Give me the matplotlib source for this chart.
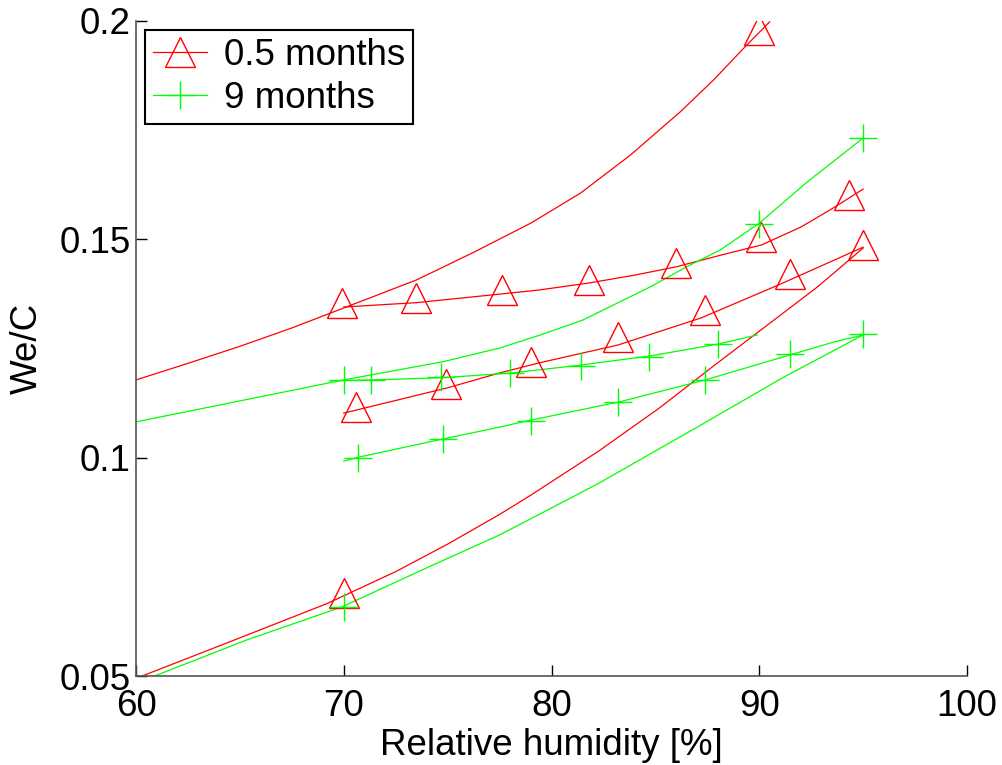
import numpy as np
import matplotlib.pyplot as plt

plt.rcParams['font.family'] = ['Liberation Sans', 'DejaVu Sans']

# Fitted curves, 0.5 months (red)
red_a_x = [60, 62.5, 65, 67.5, 69.9, 73.5, 76.2, 79.0, 81.4, 83.8, 86.2, 87.8, 89.4, 90.5]
red_a_y = [0.1178, 0.1216, 0.1255, 0.1297, 0.1341, 0.1407, 0.1469, 0.1537, 0.1606, 0.1693,
           0.1792, 0.1865, 0.1945, 0.1998]
red_b_x = [70, 73.5, 77.6, 79.4, 81.8, 84, 86, 88, 90.1, 92, 93.5, 95]
red_b_y = [0.1345, 0.1355, 0.1375, 0.1384, 0.1400, 0.1418, 0.1437, 0.1462, 0.1487, 0.1528,
           0.1570, 0.1615]
red_c_x = [60, 60.4, 64.5, 69.2, 72.5, 75, 77.5, 79, 82.3, 85.2, 87.8, 90.4, 92.8, 95]
red_c_y = [0.0494, 0.0502, 0.0578, 0.0666, 0.0739, 0.0802, 0.0870, 0.0914, 0.1016, 0.1114,
           0.1210, 0.1304, 0.1391, 0.1480]
red_d_x = [70, 75, 77.5, 79.4, 83.2, 87.2, 90.9, 93.4, 95]
red_d_y = [0.1102, 0.1160, 0.1194, 0.1217, 0.1258, 0.1320, 0.1395, 0.1448, 0.1482]

# Measured points, 0.5 months
red_pts_x = [69.9, 73.5, 77.6, 81.8, 86.0, 90.1, 94.3,
             90.0, 70.0,
             70.6, 74.9, 79.0, 83.2, 87.4, 91.5, 95.0]
red_pts_y = [0.1354, 0.1366, 0.1384, 0.1407, 0.1446, 0.1505, 0.1601,
             0.1979, 0.0690,
             0.1116, 0.1169, 0.1219, 0.1276, 0.1338, 0.1420, 0.1487]

# Fitted curves, 9 months (green)
green_e_x = [60, 65, 70, 74.8, 77.5, 79.4, 81.5, 84.75, 86.5, 88.1, 90, 92.3, 95]
green_e_y = [0.1082, 0.1130, 0.1178, 0.1220, 0.1251, 0.1280, 0.1315, 0.1391, 0.1437, 0.1475,
             0.1537, 0.1631, 0.1732]
green_f_x = [69.3, 71.3, 74.7, 78.1, 81.4, 84.75, 88, 89.9]
green_f_y = [0.1176, 0.1178, 0.1183, 0.1194, 0.1212, 0.1233, 0.1260, 0.1281]
green_g_x = [70, 70.7, 74.8, 77.5, 79, 83.2, 87.4, 91.6, 93.6, 95]
green_g_y = [0.0992, 0.1001, 0.1043, 0.1070, 0.1086, 0.1127, 0.1178, 0.1237, 0.1265, 0.1281]
green_h_x = [60.7, 61, 65.3, 69.9, 74.1, 77.5, 79, 82.3, 87.2, 91.2, 95]
green_h_y = [0.0497, 0.0502, 0.0582, 0.0658, 0.0750, 0.0823, 0.0860, 0.0942, 0.1075, 0.1185,
             0.1281]

# Measured points, 9 months
green_pts_x = [70.0, 71.3, 74.7, 78.0, 81.4, 84.7, 88.0,
               90.0, 95.0,
               70.7, 74.8, 79.0, 83.2, 87.4, 91.5, 95.0,
               70.0]
green_pts_y = [0.1178, 0.1178, 0.1185, 0.1194, 0.1210, 0.1230, 0.1260,
               0.1535, 0.1732,
               0.1000, 0.1043, 0.1085, 0.1128, 0.1178, 0.1237, 0.1283,
               0.0658]

RED = (1, 0, 0)
GREEN = (0, 1, 0)
FS = 26.5

fig = plt.figure(figsize=(10.03, 7.65), dpi=100)
ax = fig.add_axes([136 / 1003, 1 - 676 / 765, (967 - 136) / 1003, (676 - 21) / 765])

lw = 0.9
for xs, ys in [(red_a_x, red_a_y), (red_b_x, red_b_y), (red_c_x, red_c_y), (red_d_x, red_d_y)]:
    ax.plot(xs, ys, color=RED, lw=lw)
for xs, ys in [(green_e_x, green_e_y), (green_f_x, green_f_y), (green_g_x, green_g_y), (green_h_x, green_h_y)]:
    ax.plot(xs, ys, color=GREEN, lw=lw)

ax.plot(red_pts_x, red_pts_y, ls='none', marker='^', ms=22, mfc='none', mec=RED, mew=1.0)
ax.plot(green_pts_x, green_pts_y, ls='none', marker='+', ms=20, mec=GREEN, mew=1.0)

# legend handles
h1, = ax.plot([], [], color=RED, lw=lw, marker='^', ms=22, mfc='none', mec=RED, mew=1.0)
h2, = ax.plot([], [], color=GREEN, lw=lw, marker='+', ms=20, mec=GREEN, mew=1.0)
leg = ax.legend([h1, h2], ['0.5 months', '9 months'], loc='upper left',
                bbox_to_anchor=(145 / 1003, 1 - 30 / 765), bbox_transform=fig.transFigure,
                borderaxespad=0, fontsize=FS, handlelength=1.47, handletextpad=0.46,
                borderpad=0.22, labelspacing=0.22, fancybox=False, framealpha=1)
leg.get_frame().set_edgecolor('black')
leg.get_frame().set_linewidth(1.5)

ax.set_xlim(60, 100)
ax.set_ylim(0.05, 0.2)
ax.set_xticks([60, 70, 80, 90, 100])
ax.set_yticks([0.05, 0.1, 0.15, 0.2])
ax.set_yticklabels(['0.05', '0.1', '0.15', '0.2'])
ax.tick_params(direction='in', length=8, width=1, labelsize=FS, colors='black')
ax.tick_params(axis='x', pad=9)
ax.tick_params(axis='y', pad=4)
for s in ['top', 'right']:
    ax.spines[s].set_visible(False)
for s in ['left', 'bottom']:
    ax.spines[s].set_color('#555555')
    ax.spines[s].set_linewidth(1.2)

ax.set_xlabel('Relative humidity [%]', fontsize=FS, labelpad=3)
ax.set_ylabel('We/C', fontsize=FS, labelpad=10)

fig.savefig('out.png', dpi=100)
